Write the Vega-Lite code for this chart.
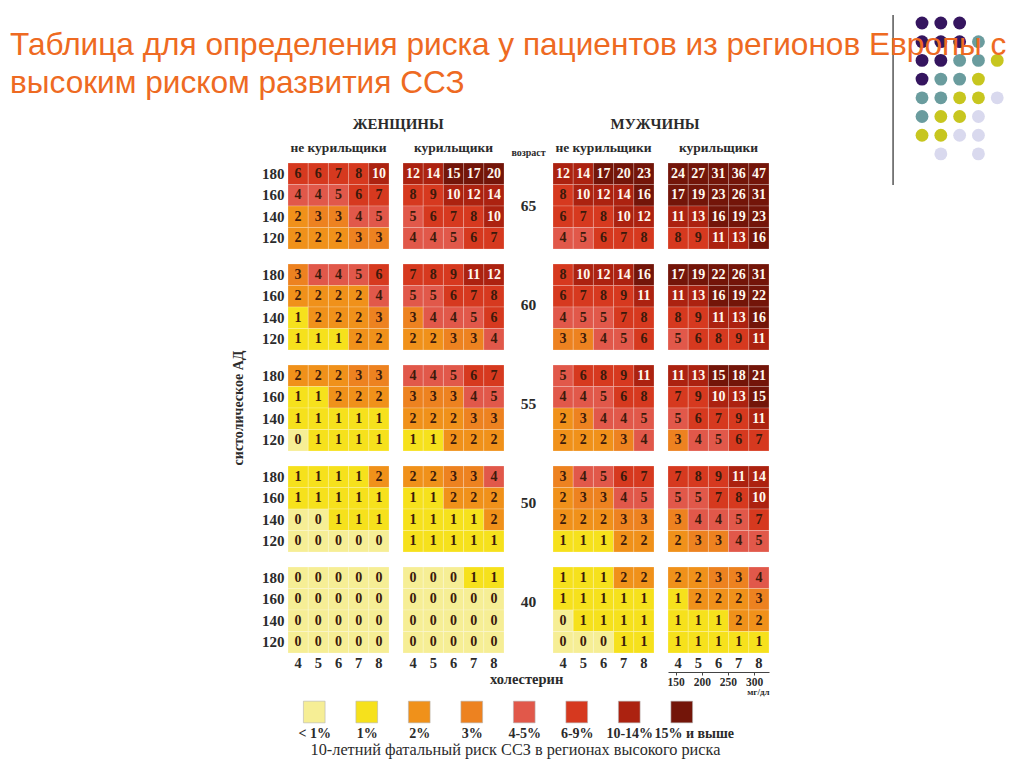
{
"$schema": "https://vega.github.io/schema/vega-lite/v6.json",
"background": "white",
"padding": {"left": 10, "top": 10, "right": 5, "bottom": 3},
"config": {
 "view": {"stroke": null},
 "font": "Liberation Serif",
 "axis": {"labelFontWeight": "bold", "labelColor": "#2b2b2b", "ticks": false, "domain": false, "grid": false, "titleColor": "#2b2b2b"},
 "header": {"labelFontWeight": "bold", "labelFontSize": 13.5, "labelColor": "#2b2b2b", "titleFontWeight": "bold", "titleFontSize": 14, "titleColor": "#2b2b2b"},
 "title": {"fontWeight": "bold", "fontSize": 15, "color": "#2b2b2b"}
},
"resolve": {"scale": {"color": "independent"}},
"datasets": {
 "dots": [
  {"col":0,"row":0,"tone":"purple"},{"col":1,"row":0,"tone":"purple"},{"col":2,"row":0,"tone":"purple"},
  {"col":0,"row":1,"tone":"purple"},{"col":1,"row":1,"tone":"purple"},{"col":2,"row":1,"tone":"purple"},{"col":3,"row":1,"tone":"teal"},
  {"col":0,"row":2,"tone":"purple"},{"col":1,"row":2,"tone":"purple"},{"col":2,"row":2,"tone":"teal"},{"col":3,"row":2,"tone":"teal"},{"col":4,"row":2,"tone":"olive"},
  {"col":0,"row":3,"tone":"purple"},{"col":1,"row":3,"tone":"teal"},{"col":2,"row":3,"tone":"teal"},{"col":3,"row":3,"tone":"olive"},
  {"col":0,"row":4,"tone":"teal"},{"col":1,"row":4,"tone":"teal"},{"col":2,"row":4,"tone":"olive"},{"col":3,"row":4,"tone":"olive"},{"col":4,"row":4,"tone":"lavender"},
  {"col":0,"row":5,"tone":"teal"},{"col":1,"row":5,"tone":"olive"},{"col":2,"row":5,"tone":"olive"},{"col":3,"row":5,"tone":"lavender"},
  {"col":0,"row":6,"tone":"olive"},{"col":1,"row":6,"tone":"olive"},{"col":2,"row":6,"tone":"lavender"},{"col":3,"row":6,"tone":"lavender"},
  {"col":1,"row":7,"tone":"lavender"},{"col":3,"row":7,"tone":"lavender"}
 ],
 "ages": [
  {"age":65,"col":"возраст"},{"age":60,"col":"возраст"},{"age":55,"col":"возраст"},{"age":50,"col":"возраст"},{"age":40,"col":"возраст"}
 ],
 "legend": [
  {"label":"< 1%"},{"label":"1%"},{"label":"2%"},{"label":"3%"},{"label":"4-5%"},{"label":"6-9%"},{"label":"10-14%"},{"label":"15% и выше"}
 ],
 "cells": [
  {"sex":"F","smoker":"no","age":65,"sbp":180,"chol":4,"risk":6},{"sex":"F","smoker":"no","age":65,"sbp":180,"chol":5,"risk":6},{"sex":"F","smoker":"no","age":65,"sbp":180,"chol":6,"risk":7},{"sex":"F","smoker":"no","age":65,"sbp":180,"chol":7,"risk":8},{"sex":"F","smoker":"no","age":65,"sbp":180,"chol":8,"risk":10},
  {"sex":"F","smoker":"no","age":65,"sbp":160,"chol":4,"risk":4},{"sex":"F","smoker":"no","age":65,"sbp":160,"chol":5,"risk":4},{"sex":"F","smoker":"no","age":65,"sbp":160,"chol":6,"risk":5},{"sex":"F","smoker":"no","age":65,"sbp":160,"chol":7,"risk":6},{"sex":"F","smoker":"no","age":65,"sbp":160,"chol":8,"risk":7},
  {"sex":"F","smoker":"no","age":65,"sbp":140,"chol":4,"risk":2},{"sex":"F","smoker":"no","age":65,"sbp":140,"chol":5,"risk":3},{"sex":"F","smoker":"no","age":65,"sbp":140,"chol":6,"risk":3},{"sex":"F","smoker":"no","age":65,"sbp":140,"chol":7,"risk":4},{"sex":"F","smoker":"no","age":65,"sbp":140,"chol":8,"risk":5},
  {"sex":"F","smoker":"no","age":65,"sbp":120,"chol":4,"risk":2},{"sex":"F","smoker":"no","age":65,"sbp":120,"chol":5,"risk":2},{"sex":"F","smoker":"no","age":65,"sbp":120,"chol":6,"risk":2},{"sex":"F","smoker":"no","age":65,"sbp":120,"chol":7,"risk":3},{"sex":"F","smoker":"no","age":65,"sbp":120,"chol":8,"risk":3},
  {"sex":"F","smoker":"no","age":60,"sbp":180,"chol":4,"risk":3},{"sex":"F","smoker":"no","age":60,"sbp":180,"chol":5,"risk":4},{"sex":"F","smoker":"no","age":60,"sbp":180,"chol":6,"risk":4},{"sex":"F","smoker":"no","age":60,"sbp":180,"chol":7,"risk":5},{"sex":"F","smoker":"no","age":60,"sbp":180,"chol":8,"risk":6},
  {"sex":"F","smoker":"no","age":60,"sbp":160,"chol":4,"risk":2},{"sex":"F","smoker":"no","age":60,"sbp":160,"chol":5,"risk":2},{"sex":"F","smoker":"no","age":60,"sbp":160,"chol":6,"risk":2},{"sex":"F","smoker":"no","age":60,"sbp":160,"chol":7,"risk":2},{"sex":"F","smoker":"no","age":60,"sbp":160,"chol":8,"risk":4},
  {"sex":"F","smoker":"no","age":60,"sbp":140,"chol":4,"risk":1},{"sex":"F","smoker":"no","age":60,"sbp":140,"chol":5,"risk":2},{"sex":"F","smoker":"no","age":60,"sbp":140,"chol":6,"risk":2},{"sex":"F","smoker":"no","age":60,"sbp":140,"chol":7,"risk":2},{"sex":"F","smoker":"no","age":60,"sbp":140,"chol":8,"risk":3},
  {"sex":"F","smoker":"no","age":60,"sbp":120,"chol":4,"risk":1},{"sex":"F","smoker":"no","age":60,"sbp":120,"chol":5,"risk":1},{"sex":"F","smoker":"no","age":60,"sbp":120,"chol":6,"risk":1},{"sex":"F","smoker":"no","age":60,"sbp":120,"chol":7,"risk":2},{"sex":"F","smoker":"no","age":60,"sbp":120,"chol":8,"risk":2},
  {"sex":"F","smoker":"no","age":55,"sbp":180,"chol":4,"risk":2},{"sex":"F","smoker":"no","age":55,"sbp":180,"chol":5,"risk":2},{"sex":"F","smoker":"no","age":55,"sbp":180,"chol":6,"risk":2},{"sex":"F","smoker":"no","age":55,"sbp":180,"chol":7,"risk":3},{"sex":"F","smoker":"no","age":55,"sbp":180,"chol":8,"risk":3},
  {"sex":"F","smoker":"no","age":55,"sbp":160,"chol":4,"risk":1},{"sex":"F","smoker":"no","age":55,"sbp":160,"chol":5,"risk":1},{"sex":"F","smoker":"no","age":55,"sbp":160,"chol":6,"risk":2},{"sex":"F","smoker":"no","age":55,"sbp":160,"chol":7,"risk":2},{"sex":"F","smoker":"no","age":55,"sbp":160,"chol":8,"risk":2},
  {"sex":"F","smoker":"no","age":55,"sbp":140,"chol":4,"risk":1},{"sex":"F","smoker":"no","age":55,"sbp":140,"chol":5,"risk":1},{"sex":"F","smoker":"no","age":55,"sbp":140,"chol":6,"risk":1},{"sex":"F","smoker":"no","age":55,"sbp":140,"chol":7,"risk":1},{"sex":"F","smoker":"no","age":55,"sbp":140,"chol":8,"risk":1},
  {"sex":"F","smoker":"no","age":55,"sbp":120,"chol":4,"risk":0},{"sex":"F","smoker":"no","age":55,"sbp":120,"chol":5,"risk":1},{"sex":"F","smoker":"no","age":55,"sbp":120,"chol":6,"risk":1},{"sex":"F","smoker":"no","age":55,"sbp":120,"chol":7,"risk":1},{"sex":"F","smoker":"no","age":55,"sbp":120,"chol":8,"risk":1},
  {"sex":"F","smoker":"no","age":50,"sbp":180,"chol":4,"risk":1},{"sex":"F","smoker":"no","age":50,"sbp":180,"chol":5,"risk":1},{"sex":"F","smoker":"no","age":50,"sbp":180,"chol":6,"risk":1},{"sex":"F","smoker":"no","age":50,"sbp":180,"chol":7,"risk":1},{"sex":"F","smoker":"no","age":50,"sbp":180,"chol":8,"risk":2},
  {"sex":"F","smoker":"no","age":50,"sbp":160,"chol":4,"risk":1},{"sex":"F","smoker":"no","age":50,"sbp":160,"chol":5,"risk":1},{"sex":"F","smoker":"no","age":50,"sbp":160,"chol":6,"risk":1},{"sex":"F","smoker":"no","age":50,"sbp":160,"chol":7,"risk":1},{"sex":"F","smoker":"no","age":50,"sbp":160,"chol":8,"risk":1},
  {"sex":"F","smoker":"no","age":50,"sbp":140,"chol":4,"risk":0},{"sex":"F","smoker":"no","age":50,"sbp":140,"chol":5,"risk":0},{"sex":"F","smoker":"no","age":50,"sbp":140,"chol":6,"risk":1},{"sex":"F","smoker":"no","age":50,"sbp":140,"chol":7,"risk":1},{"sex":"F","smoker":"no","age":50,"sbp":140,"chol":8,"risk":1},
  {"sex":"F","smoker":"no","age":50,"sbp":120,"chol":4,"risk":0},{"sex":"F","smoker":"no","age":50,"sbp":120,"chol":5,"risk":0},{"sex":"F","smoker":"no","age":50,"sbp":120,"chol":6,"risk":0},{"sex":"F","smoker":"no","age":50,"sbp":120,"chol":7,"risk":0},{"sex":"F","smoker":"no","age":50,"sbp":120,"chol":8,"risk":0},
  {"sex":"F","smoker":"no","age":40,"sbp":180,"chol":4,"risk":0},{"sex":"F","smoker":"no","age":40,"sbp":180,"chol":5,"risk":0},{"sex":"F","smoker":"no","age":40,"sbp":180,"chol":6,"risk":0},{"sex":"F","smoker":"no","age":40,"sbp":180,"chol":7,"risk":0},{"sex":"F","smoker":"no","age":40,"sbp":180,"chol":8,"risk":0},
  {"sex":"F","smoker":"no","age":40,"sbp":160,"chol":4,"risk":0},{"sex":"F","smoker":"no","age":40,"sbp":160,"chol":5,"risk":0},{"sex":"F","smoker":"no","age":40,"sbp":160,"chol":6,"risk":0},{"sex":"F","smoker":"no","age":40,"sbp":160,"chol":7,"risk":0},{"sex":"F","smoker":"no","age":40,"sbp":160,"chol":8,"risk":0},
  {"sex":"F","smoker":"no","age":40,"sbp":140,"chol":4,"risk":0},{"sex":"F","smoker":"no","age":40,"sbp":140,"chol":5,"risk":0},{"sex":"F","smoker":"no","age":40,"sbp":140,"chol":6,"risk":0},{"sex":"F","smoker":"no","age":40,"sbp":140,"chol":7,"risk":0},{"sex":"F","smoker":"no","age":40,"sbp":140,"chol":8,"risk":0},
  {"sex":"F","smoker":"no","age":40,"sbp":120,"chol":4,"risk":0},{"sex":"F","smoker":"no","age":40,"sbp":120,"chol":5,"risk":0},{"sex":"F","smoker":"no","age":40,"sbp":120,"chol":6,"risk":0},{"sex":"F","smoker":"no","age":40,"sbp":120,"chol":7,"risk":0},{"sex":"F","smoker":"no","age":40,"sbp":120,"chol":8,"risk":0},

  {"sex":"F","smoker":"yes","age":65,"sbp":180,"chol":4,"risk":12},{"sex":"F","smoker":"yes","age":65,"sbp":180,"chol":5,"risk":14},{"sex":"F","smoker":"yes","age":65,"sbp":180,"chol":6,"risk":15},{"sex":"F","smoker":"yes","age":65,"sbp":180,"chol":7,"risk":17},{"sex":"F","smoker":"yes","age":65,"sbp":180,"chol":8,"risk":20},
  {"sex":"F","smoker":"yes","age":65,"sbp":160,"chol":4,"risk":8},{"sex":"F","smoker":"yes","age":65,"sbp":160,"chol":5,"risk":9},{"sex":"F","smoker":"yes","age":65,"sbp":160,"chol":6,"risk":10},{"sex":"F","smoker":"yes","age":65,"sbp":160,"chol":7,"risk":12},{"sex":"F","smoker":"yes","age":65,"sbp":160,"chol":8,"risk":14},
  {"sex":"F","smoker":"yes","age":65,"sbp":140,"chol":4,"risk":5},{"sex":"F","smoker":"yes","age":65,"sbp":140,"chol":5,"risk":6},{"sex":"F","smoker":"yes","age":65,"sbp":140,"chol":6,"risk":7},{"sex":"F","smoker":"yes","age":65,"sbp":140,"chol":7,"risk":8},{"sex":"F","smoker":"yes","age":65,"sbp":140,"chol":8,"risk":10},
  {"sex":"F","smoker":"yes","age":65,"sbp":120,"chol":4,"risk":4},{"sex":"F","smoker":"yes","age":65,"sbp":120,"chol":5,"risk":4},{"sex":"F","smoker":"yes","age":65,"sbp":120,"chol":6,"risk":5},{"sex":"F","smoker":"yes","age":65,"sbp":120,"chol":7,"risk":6},{"sex":"F","smoker":"yes","age":65,"sbp":120,"chol":8,"risk":7},
  {"sex":"F","smoker":"yes","age":60,"sbp":180,"chol":4,"risk":7},{"sex":"F","smoker":"yes","age":60,"sbp":180,"chol":5,"risk":8},{"sex":"F","smoker":"yes","age":60,"sbp":180,"chol":6,"risk":9},{"sex":"F","smoker":"yes","age":60,"sbp":180,"chol":7,"risk":11},{"sex":"F","smoker":"yes","age":60,"sbp":180,"chol":8,"risk":12},
  {"sex":"F","smoker":"yes","age":60,"sbp":160,"chol":4,"risk":5},{"sex":"F","smoker":"yes","age":60,"sbp":160,"chol":5,"risk":5},{"sex":"F","smoker":"yes","age":60,"sbp":160,"chol":6,"risk":6},{"sex":"F","smoker":"yes","age":60,"sbp":160,"chol":7,"risk":7},{"sex":"F","smoker":"yes","age":60,"sbp":160,"chol":8,"risk":8},
  {"sex":"F","smoker":"yes","age":60,"sbp":140,"chol":4,"risk":3},{"sex":"F","smoker":"yes","age":60,"sbp":140,"chol":5,"risk":4},{"sex":"F","smoker":"yes","age":60,"sbp":140,"chol":6,"risk":4},{"sex":"F","smoker":"yes","age":60,"sbp":140,"chol":7,"risk":5},{"sex":"F","smoker":"yes","age":60,"sbp":140,"chol":8,"risk":6},
  {"sex":"F","smoker":"yes","age":60,"sbp":120,"chol":4,"risk":2},{"sex":"F","smoker":"yes","age":60,"sbp":120,"chol":5,"risk":2},{"sex":"F","smoker":"yes","age":60,"sbp":120,"chol":6,"risk":3},{"sex":"F","smoker":"yes","age":60,"sbp":120,"chol":7,"risk":3},{"sex":"F","smoker":"yes","age":60,"sbp":120,"chol":8,"risk":4},
  {"sex":"F","smoker":"yes","age":55,"sbp":180,"chol":4,"risk":4},{"sex":"F","smoker":"yes","age":55,"sbp":180,"chol":5,"risk":4},{"sex":"F","smoker":"yes","age":55,"sbp":180,"chol":6,"risk":5},{"sex":"F","smoker":"yes","age":55,"sbp":180,"chol":7,"risk":6},{"sex":"F","smoker":"yes","age":55,"sbp":180,"chol":8,"risk":7},
  {"sex":"F","smoker":"yes","age":55,"sbp":160,"chol":4,"risk":3},{"sex":"F","smoker":"yes","age":55,"sbp":160,"chol":5,"risk":3},{"sex":"F","smoker":"yes","age":55,"sbp":160,"chol":6,"risk":3},{"sex":"F","smoker":"yes","age":55,"sbp":160,"chol":7,"risk":4},{"sex":"F","smoker":"yes","age":55,"sbp":160,"chol":8,"risk":5},
  {"sex":"F","smoker":"yes","age":55,"sbp":140,"chol":4,"risk":2},{"sex":"F","smoker":"yes","age":55,"sbp":140,"chol":5,"risk":2},{"sex":"F","smoker":"yes","age":55,"sbp":140,"chol":6,"risk":2},{"sex":"F","smoker":"yes","age":55,"sbp":140,"chol":7,"risk":3},{"sex":"F","smoker":"yes","age":55,"sbp":140,"chol":8,"risk":3},
  {"sex":"F","smoker":"yes","age":55,"sbp":120,"chol":4,"risk":1},{"sex":"F","smoker":"yes","age":55,"sbp":120,"chol":5,"risk":1},{"sex":"F","smoker":"yes","age":55,"sbp":120,"chol":6,"risk":2},{"sex":"F","smoker":"yes","age":55,"sbp":120,"chol":7,"risk":2},{"sex":"F","smoker":"yes","age":55,"sbp":120,"chol":8,"risk":2},
  {"sex":"F","smoker":"yes","age":50,"sbp":180,"chol":4,"risk":2},{"sex":"F","smoker":"yes","age":50,"sbp":180,"chol":5,"risk":2},{"sex":"F","smoker":"yes","age":50,"sbp":180,"chol":6,"risk":3},{"sex":"F","smoker":"yes","age":50,"sbp":180,"chol":7,"risk":3},{"sex":"F","smoker":"yes","age":50,"sbp":180,"chol":8,"risk":4},
  {"sex":"F","smoker":"yes","age":50,"sbp":160,"chol":4,"risk":1},{"sex":"F","smoker":"yes","age":50,"sbp":160,"chol":5,"risk":1},{"sex":"F","smoker":"yes","age":50,"sbp":160,"chol":6,"risk":2},{"sex":"F","smoker":"yes","age":50,"sbp":160,"chol":7,"risk":2},{"sex":"F","smoker":"yes","age":50,"sbp":160,"chol":8,"risk":2},
  {"sex":"F","smoker":"yes","age":50,"sbp":140,"chol":4,"risk":1},{"sex":"F","smoker":"yes","age":50,"sbp":140,"chol":5,"risk":1},{"sex":"F","smoker":"yes","age":50,"sbp":140,"chol":6,"risk":1},{"sex":"F","smoker":"yes","age":50,"sbp":140,"chol":7,"risk":1},{"sex":"F","smoker":"yes","age":50,"sbp":140,"chol":8,"risk":2},
  {"sex":"F","smoker":"yes","age":50,"sbp":120,"chol":4,"risk":1},{"sex":"F","smoker":"yes","age":50,"sbp":120,"chol":5,"risk":1},{"sex":"F","smoker":"yes","age":50,"sbp":120,"chol":6,"risk":1},{"sex":"F","smoker":"yes","age":50,"sbp":120,"chol":7,"risk":1},{"sex":"F","smoker":"yes","age":50,"sbp":120,"chol":8,"risk":1},
  {"sex":"F","smoker":"yes","age":40,"sbp":180,"chol":4,"risk":0},{"sex":"F","smoker":"yes","age":40,"sbp":180,"chol":5,"risk":0},{"sex":"F","smoker":"yes","age":40,"sbp":180,"chol":6,"risk":0},{"sex":"F","smoker":"yes","age":40,"sbp":180,"chol":7,"risk":1},{"sex":"F","smoker":"yes","age":40,"sbp":180,"chol":8,"risk":1},
  {"sex":"F","smoker":"yes","age":40,"sbp":160,"chol":4,"risk":0},{"sex":"F","smoker":"yes","age":40,"sbp":160,"chol":5,"risk":0},{"sex":"F","smoker":"yes","age":40,"sbp":160,"chol":6,"risk":0},{"sex":"F","smoker":"yes","age":40,"sbp":160,"chol":7,"risk":0},{"sex":"F","smoker":"yes","age":40,"sbp":160,"chol":8,"risk":0},
  {"sex":"F","smoker":"yes","age":40,"sbp":140,"chol":4,"risk":0},{"sex":"F","smoker":"yes","age":40,"sbp":140,"chol":5,"risk":0},{"sex":"F","smoker":"yes","age":40,"sbp":140,"chol":6,"risk":0},{"sex":"F","smoker":"yes","age":40,"sbp":140,"chol":7,"risk":0},{"sex":"F","smoker":"yes","age":40,"sbp":140,"chol":8,"risk":0},
  {"sex":"F","smoker":"yes","age":40,"sbp":120,"chol":4,"risk":0},{"sex":"F","smoker":"yes","age":40,"sbp":120,"chol":5,"risk":0},{"sex":"F","smoker":"yes","age":40,"sbp":120,"chol":6,"risk":0},{"sex":"F","smoker":"yes","age":40,"sbp":120,"chol":7,"risk":0},{"sex":"F","smoker":"yes","age":40,"sbp":120,"chol":8,"risk":0},

  {"sex":"M","smoker":"no","age":65,"sbp":180,"chol":4,"risk":12},{"sex":"M","smoker":"no","age":65,"sbp":180,"chol":5,"risk":14},{"sex":"M","smoker":"no","age":65,"sbp":180,"chol":6,"risk":17},{"sex":"M","smoker":"no","age":65,"sbp":180,"chol":7,"risk":20},{"sex":"M","smoker":"no","age":65,"sbp":180,"chol":8,"risk":23},
  {"sex":"M","smoker":"no","age":65,"sbp":160,"chol":4,"risk":8},{"sex":"M","smoker":"no","age":65,"sbp":160,"chol":5,"risk":10},{"sex":"M","smoker":"no","age":65,"sbp":160,"chol":6,"risk":12},{"sex":"M","smoker":"no","age":65,"sbp":160,"chol":7,"risk":14},{"sex":"M","smoker":"no","age":65,"sbp":160,"chol":8,"risk":16},
  {"sex":"M","smoker":"no","age":65,"sbp":140,"chol":4,"risk":6},{"sex":"M","smoker":"no","age":65,"sbp":140,"chol":5,"risk":7},{"sex":"M","smoker":"no","age":65,"sbp":140,"chol":6,"risk":8},{"sex":"M","smoker":"no","age":65,"sbp":140,"chol":7,"risk":10},{"sex":"M","smoker":"no","age":65,"sbp":140,"chol":8,"risk":12},
  {"sex":"M","smoker":"no","age":65,"sbp":120,"chol":4,"risk":4},{"sex":"M","smoker":"no","age":65,"sbp":120,"chol":5,"risk":5},{"sex":"M","smoker":"no","age":65,"sbp":120,"chol":6,"risk":6},{"sex":"M","smoker":"no","age":65,"sbp":120,"chol":7,"risk":7},{"sex":"M","smoker":"no","age":65,"sbp":120,"chol":8,"risk":8},
  {"sex":"M","smoker":"no","age":60,"sbp":180,"chol":4,"risk":8},{"sex":"M","smoker":"no","age":60,"sbp":180,"chol":5,"risk":10},{"sex":"M","smoker":"no","age":60,"sbp":180,"chol":6,"risk":12},{"sex":"M","smoker":"no","age":60,"sbp":180,"chol":7,"risk":14},{"sex":"M","smoker":"no","age":60,"sbp":180,"chol":8,"risk":16},
  {"sex":"M","smoker":"no","age":60,"sbp":160,"chol":4,"risk":6},{"sex":"M","smoker":"no","age":60,"sbp":160,"chol":5,"risk":7},{"sex":"M","smoker":"no","age":60,"sbp":160,"chol":6,"risk":8},{"sex":"M","smoker":"no","age":60,"sbp":160,"chol":7,"risk":9},{"sex":"M","smoker":"no","age":60,"sbp":160,"chol":8,"risk":11},
  {"sex":"M","smoker":"no","age":60,"sbp":140,"chol":4,"risk":4},{"sex":"M","smoker":"no","age":60,"sbp":140,"chol":5,"risk":5},{"sex":"M","smoker":"no","age":60,"sbp":140,"chol":6,"risk":5},{"sex":"M","smoker":"no","age":60,"sbp":140,"chol":7,"risk":7},{"sex":"M","smoker":"no","age":60,"sbp":140,"chol":8,"risk":8},
  {"sex":"M","smoker":"no","age":60,"sbp":120,"chol":4,"risk":3},{"sex":"M","smoker":"no","age":60,"sbp":120,"chol":5,"risk":3},{"sex":"M","smoker":"no","age":60,"sbp":120,"chol":6,"risk":4},{"sex":"M","smoker":"no","age":60,"sbp":120,"chol":7,"risk":5},{"sex":"M","smoker":"no","age":60,"sbp":120,"chol":8,"risk":6},
  {"sex":"M","smoker":"no","age":55,"sbp":180,"chol":4,"risk":5},{"sex":"M","smoker":"no","age":55,"sbp":180,"chol":5,"risk":6},{"sex":"M","smoker":"no","age":55,"sbp":180,"chol":6,"risk":8},{"sex":"M","smoker":"no","age":55,"sbp":180,"chol":7,"risk":9},{"sex":"M","smoker":"no","age":55,"sbp":180,"chol":8,"risk":11},
  {"sex":"M","smoker":"no","age":55,"sbp":160,"chol":4,"risk":4},{"sex":"M","smoker":"no","age":55,"sbp":160,"chol":5,"risk":4},{"sex":"M","smoker":"no","age":55,"sbp":160,"chol":6,"risk":5},{"sex":"M","smoker":"no","age":55,"sbp":160,"chol":7,"risk":6},{"sex":"M","smoker":"no","age":55,"sbp":160,"chol":8,"risk":8},
  {"sex":"M","smoker":"no","age":55,"sbp":140,"chol":4,"risk":2},{"sex":"M","smoker":"no","age":55,"sbp":140,"chol":5,"risk":3},{"sex":"M","smoker":"no","age":55,"sbp":140,"chol":6,"risk":4},{"sex":"M","smoker":"no","age":55,"sbp":140,"chol":7,"risk":4},{"sex":"M","smoker":"no","age":55,"sbp":140,"chol":8,"risk":5},
  {"sex":"M","smoker":"no","age":55,"sbp":120,"chol":4,"risk":2},{"sex":"M","smoker":"no","age":55,"sbp":120,"chol":5,"risk":2},{"sex":"M","smoker":"no","age":55,"sbp":120,"chol":6,"risk":2},{"sex":"M","smoker":"no","age":55,"sbp":120,"chol":7,"risk":3},{"sex":"M","smoker":"no","age":55,"sbp":120,"chol":8,"risk":4},
  {"sex":"M","smoker":"no","age":50,"sbp":180,"chol":4,"risk":3},{"sex":"M","smoker":"no","age":50,"sbp":180,"chol":5,"risk":4},{"sex":"M","smoker":"no","age":50,"sbp":180,"chol":6,"risk":5},{"sex":"M","smoker":"no","age":50,"sbp":180,"chol":7,"risk":6},{"sex":"M","smoker":"no","age":50,"sbp":180,"chol":8,"risk":7},
  {"sex":"M","smoker":"no","age":50,"sbp":160,"chol":4,"risk":2},{"sex":"M","smoker":"no","age":50,"sbp":160,"chol":5,"risk":3},{"sex":"M","smoker":"no","age":50,"sbp":160,"chol":6,"risk":3},{"sex":"M","smoker":"no","age":50,"sbp":160,"chol":7,"risk":4},{"sex":"M","smoker":"no","age":50,"sbp":160,"chol":8,"risk":5},
  {"sex":"M","smoker":"no","age":50,"sbp":140,"chol":4,"risk":2},{"sex":"M","smoker":"no","age":50,"sbp":140,"chol":5,"risk":2},{"sex":"M","smoker":"no","age":50,"sbp":140,"chol":6,"risk":2},{"sex":"M","smoker":"no","age":50,"sbp":140,"chol":7,"risk":3},{"sex":"M","smoker":"no","age":50,"sbp":140,"chol":8,"risk":3},
  {"sex":"M","smoker":"no","age":50,"sbp":120,"chol":4,"risk":1},{"sex":"M","smoker":"no","age":50,"sbp":120,"chol":5,"risk":1},{"sex":"M","smoker":"no","age":50,"sbp":120,"chol":6,"risk":1},{"sex":"M","smoker":"no","age":50,"sbp":120,"chol":7,"risk":2},{"sex":"M","smoker":"no","age":50,"sbp":120,"chol":8,"risk":2},
  {"sex":"M","smoker":"no","age":40,"sbp":180,"chol":4,"risk":1},{"sex":"M","smoker":"no","age":40,"sbp":180,"chol":5,"risk":1},{"sex":"M","smoker":"no","age":40,"sbp":180,"chol":6,"risk":1},{"sex":"M","smoker":"no","age":40,"sbp":180,"chol":7,"risk":2},{"sex":"M","smoker":"no","age":40,"sbp":180,"chol":8,"risk":2},
  {"sex":"M","smoker":"no","age":40,"sbp":160,"chol":4,"risk":1},{"sex":"M","smoker":"no","age":40,"sbp":160,"chol":5,"risk":1},{"sex":"M","smoker":"no","age":40,"sbp":160,"chol":6,"risk":1},{"sex":"M","smoker":"no","age":40,"sbp":160,"chol":7,"risk":1},{"sex":"M","smoker":"no","age":40,"sbp":160,"chol":8,"risk":1},
  {"sex":"M","smoker":"no","age":40,"sbp":140,"chol":4,"risk":0},{"sex":"M","smoker":"no","age":40,"sbp":140,"chol":5,"risk":1},{"sex":"M","smoker":"no","age":40,"sbp":140,"chol":6,"risk":1},{"sex":"M","smoker":"no","age":40,"sbp":140,"chol":7,"risk":1},{"sex":"M","smoker":"no","age":40,"sbp":140,"chol":8,"risk":1},
  {"sex":"M","smoker":"no","age":40,"sbp":120,"chol":4,"risk":0},{"sex":"M","smoker":"no","age":40,"sbp":120,"chol":5,"risk":0},{"sex":"M","smoker":"no","age":40,"sbp":120,"chol":6,"risk":0},{"sex":"M","smoker":"no","age":40,"sbp":120,"chol":7,"risk":1},{"sex":"M","smoker":"no","age":40,"sbp":120,"chol":8,"risk":1},

  {"sex":"M","smoker":"yes","age":65,"sbp":180,"chol":4,"risk":24},{"sex":"M","smoker":"yes","age":65,"sbp":180,"chol":5,"risk":27},{"sex":"M","smoker":"yes","age":65,"sbp":180,"chol":6,"risk":31},{"sex":"M","smoker":"yes","age":65,"sbp":180,"chol":7,"risk":36},{"sex":"M","smoker":"yes","age":65,"sbp":180,"chol":8,"risk":47},
  {"sex":"M","smoker":"yes","age":65,"sbp":160,"chol":4,"risk":17},{"sex":"M","smoker":"yes","age":65,"sbp":160,"chol":5,"risk":19},{"sex":"M","smoker":"yes","age":65,"sbp":160,"chol":6,"risk":23},{"sex":"M","smoker":"yes","age":65,"sbp":160,"chol":7,"risk":26},{"sex":"M","smoker":"yes","age":65,"sbp":160,"chol":8,"risk":31},
  {"sex":"M","smoker":"yes","age":65,"sbp":140,"chol":4,"risk":11},{"sex":"M","smoker":"yes","age":65,"sbp":140,"chol":5,"risk":13},{"sex":"M","smoker":"yes","age":65,"sbp":140,"chol":6,"risk":16},{"sex":"M","smoker":"yes","age":65,"sbp":140,"chol":7,"risk":19},{"sex":"M","smoker":"yes","age":65,"sbp":140,"chol":8,"risk":23},
  {"sex":"M","smoker":"yes","age":65,"sbp":120,"chol":4,"risk":8},{"sex":"M","smoker":"yes","age":65,"sbp":120,"chol":5,"risk":9},{"sex":"M","smoker":"yes","age":65,"sbp":120,"chol":6,"risk":11},{"sex":"M","smoker":"yes","age":65,"sbp":120,"chol":7,"risk":13},{"sex":"M","smoker":"yes","age":65,"sbp":120,"chol":8,"risk":16},
  {"sex":"M","smoker":"yes","age":60,"sbp":180,"chol":4,"risk":17},{"sex":"M","smoker":"yes","age":60,"sbp":180,"chol":5,"risk":19},{"sex":"M","smoker":"yes","age":60,"sbp":180,"chol":6,"risk":22},{"sex":"M","smoker":"yes","age":60,"sbp":180,"chol":7,"risk":26},{"sex":"M","smoker":"yes","age":60,"sbp":180,"chol":8,"risk":31},
  {"sex":"M","smoker":"yes","age":60,"sbp":160,"chol":4,"risk":11},{"sex":"M","smoker":"yes","age":60,"sbp":160,"chol":5,"risk":13},{"sex":"M","smoker":"yes","age":60,"sbp":160,"chol":6,"risk":16},{"sex":"M","smoker":"yes","age":60,"sbp":160,"chol":7,"risk":19},{"sex":"M","smoker":"yes","age":60,"sbp":160,"chol":8,"risk":22},
  {"sex":"M","smoker":"yes","age":60,"sbp":140,"chol":4,"risk":8},{"sex":"M","smoker":"yes","age":60,"sbp":140,"chol":5,"risk":9},{"sex":"M","smoker":"yes","age":60,"sbp":140,"chol":6,"risk":11},{"sex":"M","smoker":"yes","age":60,"sbp":140,"chol":7,"risk":13},{"sex":"M","smoker":"yes","age":60,"sbp":140,"chol":8,"risk":16},
  {"sex":"M","smoker":"yes","age":60,"sbp":120,"chol":4,"risk":5},{"sex":"M","smoker":"yes","age":60,"sbp":120,"chol":5,"risk":6},{"sex":"M","smoker":"yes","age":60,"sbp":120,"chol":6,"risk":8},{"sex":"M","smoker":"yes","age":60,"sbp":120,"chol":7,"risk":9},{"sex":"M","smoker":"yes","age":60,"sbp":120,"chol":8,"risk":11},
  {"sex":"M","smoker":"yes","age":55,"sbp":180,"chol":4,"risk":11},{"sex":"M","smoker":"yes","age":55,"sbp":180,"chol":5,"risk":13},{"sex":"M","smoker":"yes","age":55,"sbp":180,"chol":6,"risk":15},{"sex":"M","smoker":"yes","age":55,"sbp":180,"chol":7,"risk":18},{"sex":"M","smoker":"yes","age":55,"sbp":180,"chol":8,"risk":21},
  {"sex":"M","smoker":"yes","age":55,"sbp":160,"chol":4,"risk":7},{"sex":"M","smoker":"yes","age":55,"sbp":160,"chol":5,"risk":9},{"sex":"M","smoker":"yes","age":55,"sbp":160,"chol":6,"risk":10},{"sex":"M","smoker":"yes","age":55,"sbp":160,"chol":7,"risk":13},{"sex":"M","smoker":"yes","age":55,"sbp":160,"chol":8,"risk":15},
  {"sex":"M","smoker":"yes","age":55,"sbp":140,"chol":4,"risk":5},{"sex":"M","smoker":"yes","age":55,"sbp":140,"chol":5,"risk":6},{"sex":"M","smoker":"yes","age":55,"sbp":140,"chol":6,"risk":7},{"sex":"M","smoker":"yes","age":55,"sbp":140,"chol":7,"risk":9},{"sex":"M","smoker":"yes","age":55,"sbp":140,"chol":8,"risk":11},
  {"sex":"M","smoker":"yes","age":55,"sbp":120,"chol":4,"risk":3},{"sex":"M","smoker":"yes","age":55,"sbp":120,"chol":5,"risk":4},{"sex":"M","smoker":"yes","age":55,"sbp":120,"chol":6,"risk":5},{"sex":"M","smoker":"yes","age":55,"sbp":120,"chol":7,"risk":6},{"sex":"M","smoker":"yes","age":55,"sbp":120,"chol":8,"risk":7},
  {"sex":"M","smoker":"yes","age":50,"sbp":180,"chol":4,"risk":7},{"sex":"M","smoker":"yes","age":50,"sbp":180,"chol":5,"risk":8},{"sex":"M","smoker":"yes","age":50,"sbp":180,"chol":6,"risk":9},{"sex":"M","smoker":"yes","age":50,"sbp":180,"chol":7,"risk":11},{"sex":"M","smoker":"yes","age":50,"sbp":180,"chol":8,"risk":14},
  {"sex":"M","smoker":"yes","age":50,"sbp":160,"chol":4,"risk":5},{"sex":"M","smoker":"yes","age":50,"sbp":160,"chol":5,"risk":5},{"sex":"M","smoker":"yes","age":50,"sbp":160,"chol":6,"risk":7},{"sex":"M","smoker":"yes","age":50,"sbp":160,"chol":7,"risk":8},{"sex":"M","smoker":"yes","age":50,"sbp":160,"chol":8,"risk":10},
  {"sex":"M","smoker":"yes","age":50,"sbp":140,"chol":4,"risk":3},{"sex":"M","smoker":"yes","age":50,"sbp":140,"chol":5,"risk":4},{"sex":"M","smoker":"yes","age":50,"sbp":140,"chol":6,"risk":4},{"sex":"M","smoker":"yes","age":50,"sbp":140,"chol":7,"risk":5},{"sex":"M","smoker":"yes","age":50,"sbp":140,"chol":8,"risk":7},
  {"sex":"M","smoker":"yes","age":50,"sbp":120,"chol":4,"risk":2},{"sex":"M","smoker":"yes","age":50,"sbp":120,"chol":5,"risk":3},{"sex":"M","smoker":"yes","age":50,"sbp":120,"chol":6,"risk":3},{"sex":"M","smoker":"yes","age":50,"sbp":120,"chol":7,"risk":4},{"sex":"M","smoker":"yes","age":50,"sbp":120,"chol":8,"risk":5},
  {"sex":"M","smoker":"yes","age":40,"sbp":180,"chol":4,"risk":2},{"sex":"M","smoker":"yes","age":40,"sbp":180,"chol":5,"risk":2},{"sex":"M","smoker":"yes","age":40,"sbp":180,"chol":6,"risk":3},{"sex":"M","smoker":"yes","age":40,"sbp":180,"chol":7,"risk":3},{"sex":"M","smoker":"yes","age":40,"sbp":180,"chol":8,"risk":4},
  {"sex":"M","smoker":"yes","age":40,"sbp":160,"chol":4,"risk":1},{"sex":"M","smoker":"yes","age":40,"sbp":160,"chol":5,"risk":2},{"sex":"M","smoker":"yes","age":40,"sbp":160,"chol":6,"risk":2},{"sex":"M","smoker":"yes","age":40,"sbp":160,"chol":7,"risk":2},{"sex":"M","smoker":"yes","age":40,"sbp":160,"chol":8,"risk":3},
  {"sex":"M","smoker":"yes","age":40,"sbp":140,"chol":4,"risk":1},{"sex":"M","smoker":"yes","age":40,"sbp":140,"chol":5,"risk":1},{"sex":"M","smoker":"yes","age":40,"sbp":140,"chol":6,"risk":1},{"sex":"M","smoker":"yes","age":40,"sbp":140,"chol":7,"risk":2},{"sex":"M","smoker":"yes","age":40,"sbp":140,"chol":8,"risk":2},
  {"sex":"M","smoker":"yes","age":40,"sbp":120,"chol":4,"risk":1},{"sex":"M","smoker":"yes","age":40,"sbp":120,"chol":5,"risk":1},{"sex":"M","smoker":"yes","age":40,"sbp":120,"chol":6,"risk":1},{"sex":"M","smoker":"yes","age":40,"sbp":120,"chol":7,"risk":1},{"sex":"M","smoker":"yes","age":40,"sbp":120,"chol":8,"risk":1}
 ]
},
"bounds": "flush",
"spacing": 0,
"vconcat": [
 {
  "data": {"name": "dots"},
  "width": 994, "height": 153,
  "title": {"text": ["Таблица для определения риска у пациентов из регионов Европы с", "высоким риском развития ССЗ"], "anchor": "start", "frame": "group", "offset": -90, "font": "Liberation Sans", "fontSize": 31.6, "fontWeight": "normal", "color": "#ee6a22", "lineHeight": 38},
  "layer": [
   {"data": {"values": [{}]}, "mark": {"type": "rule", "color": "#555555", "strokeWidth": 1.5},
    "encoding": {
     "x": {"datum": -1.54, "type": "quantitative", "scale": {"domain": [-48.51, 4.36], "nice": false, "zero": false}, "axis": null},
     "y": {"datum": -0.43, "type": "quantitative", "scale": {"domain": [-0.695, 8.93], "range": [0, 180], "nice": false, "zero": false}, "axis": null},
     "y2": {"datum": 8.66}
    }},
   {"mark": {"type": "circle", "size": 165, "opacity": 1},
    "encoding": {
     "x": {"field": "col", "type": "quantitative", "scale": {"domain": [-48.51, 4.36], "nice": false, "zero": false}, "axis": null},
     "y": {"field": "row", "type": "quantitative", "scale": {"domain": [-0.695, 8.93], "range": [0, 180], "nice": false, "zero": false}, "axis": null},
     "color": {"field": "tone", "type": "nominal", "scale": {"domain": ["purple", "teal", "olive", "lavender"], "range": ["#35155f", "#6a9c9e", "#c7c61f", "#d9d9ee"]}, "legend": null}
    }}
  ]
 },
 {
  "spacing": 0,
  "hconcat": [
   {"data": {"values": [{}]}, "width": 221, "height": 1, "mark": {"type": "rect", "fill": "#ffffff"}},
   {
    "spacing": 2,
    "vconcat": [
     {
      "title": {"text": "холестерин", "orient": "bottom", "anchor": "middle", "offset": -24, "dx": 26, "fontSize": 14.5},
      "spacing": 0,
      "hconcat": [
       {
        "title": {"text": "ЖЕНЩИНЫ", "anchor": "middle", "dx": 30, "offset": 9},
        "spacing": 12,
        "hconcat": [
         {
          "data": {"name": "cells"},
          "transform": [{"filter": "datum.sex == 'F' && datum.smoker == 'no'"}],
          "facet": {
           "row": {"field": "age", "type": "ordinal", "sort": "descending", "header": {"title": "систолическое АД", "labels": false, "titlePadding": 5}},
           "column": {"field": "smoker", "type": "nominal", "header": {"title": null, "labelExpr": "datum.value == 'no' ? 'не курильщики' : 'курильщики'", "labelPadding": 8}}
          },
          "spacing": {"row": 13, "column": 0},
          "spec": {
           "width": 101, "height": 86,
           "encoding": {
            "x": {"field": "chol", "type": "ordinal", "scale": {"paddingInner": 0, "paddingOuter": 0}, "axis": {"title": null, "labelAngle": 0, "labelFontSize": 14.5, "labelPadding": 2}},
            "y": {"field": "sbp", "type": "ordinal", "sort": "descending", "scale": {"paddingInner": 0, "paddingOuter": 0}, "axis": {"title": null, "labelFontSize": 15, "labelPadding": 3}}
           },
           "layer": [
            {"mark": {"type": "rect", "stroke": "#ffffff", "strokeOpacity": 0.3, "strokeWidth": 0.7},
             "encoding": {"fill": {"field": "risk", "type": "quantitative", "scale": {"type": "threshold", "domain": [1, 2, 3, 4, 6, 10, 15], "range": ["#f6ee95", "#f6e11c", "#f0911a", "#ed8220", "#e1584a", "#d6391f", "#ac2210", "#731509"]}, "legend": null}}},
            {"mark": {"type": "text", "fontWeight": "bold", "fontSize": 14},
             "encoding": {"text": {"field": "risk", "type": "quantitative"}, "color": {"condition": {"test": "datum.risk >= 10", "value": "#fff8ee"}, "value": "#3b1a0b"}}}
           ]
          }
         },
         {
          "data": {"name": "cells"},
          "transform": [{"filter": "datum.sex == 'F' && datum.smoker == 'yes'"}],
          "facet": {
           "row": {"field": "age", "type": "ordinal", "sort": "descending", "header": {"title": null, "labels": false}},
           "column": {"field": "smoker", "type": "nominal", "header": {"title": null, "labelExpr": "datum.value == 'no' ? 'не курильщики' : 'курильщики'", "labelPadding": 8}}
          },
          "spacing": {"row": 13, "column": 0},
          "spec": {
           "width": 101, "height": 86,
           "encoding": {
            "x": {"field": "chol", "type": "ordinal", "scale": {"paddingInner": 0, "paddingOuter": 0}, "axis": {"title": null, "labelAngle": 0, "labelFontSize": 14.5, "labelPadding": 2}},
            "y": {"field": "sbp", "type": "ordinal", "sort": "descending", "scale": {"paddingInner": 0, "paddingOuter": 0}, "axis": null}
           },
           "layer": [
            {"mark": {"type": "rect", "stroke": "#ffffff", "strokeOpacity": 0.3, "strokeWidth": 0.7},
             "encoding": {"fill": {"field": "risk", "type": "quantitative", "scale": {"type": "threshold", "domain": [1, 2, 3, 4, 6, 10, 15], "range": ["#f6ee95", "#f6e11c", "#f0911a", "#ed8220", "#e1584a", "#d6391f", "#ac2210", "#731509"]}, "legend": null}}},
            {"mark": {"type": "text", "fontWeight": "bold", "fontSize": 14},
             "encoding": {"text": {"field": "risk", "type": "quantitative"}, "color": {"condition": {"test": "datum.risk >= 10", "value": "#fff8ee"}, "value": "#3b1a0b"}}}
           ]
          }
         }
        ]
       },
       {
        "data": {"name": "ages"},
        "title": {"text": " ", "offset": 9},
        "facet": {
         "row": {"field": "age", "type": "ordinal", "sort": "descending", "header": {"title": null, "labels": false}},
         "column": {"field": "col", "type": "nominal", "header": {"title": null, "labelFontSize": 10, "labelPadding": 5}}
        },
        "spacing": {"row": 13, "column": 0},
        "spec": {
         "width": 47, "height": 86,
         "mark": {"type": "text", "fontSize": 15.5, "fontWeight": "bold", "color": "#2b2b2b"},
         "encoding": {"text": {"field": "age", "type": "nominal"}}
        }
       },
       {
        "title": {"text": "МУЖЧИНЫ", "anchor": "middle", "dx": -6, "offset": 9},
        "spacing": 12,
        "hconcat": [
         {
          "data": {"name": "cells"},
          "transform": [{"filter": "datum.sex == 'M' && datum.smoker == 'no'"}],
          "facet": {
           "row": {"field": "age", "type": "ordinal", "sort": "descending", "header": {"title": null, "labels": false}},
           "column": {"field": "smoker", "type": "nominal", "header": {"title": null, "labelExpr": "datum.value == 'no' ? 'не курильщики' : 'курильщики'", "labelPadding": 8}}
          },
          "spacing": {"row": 13, "column": 0},
          "spec": {
           "width": 101, "height": 86,
           "encoding": {
            "x": {"field": "chol", "type": "ordinal", "scale": {"paddingInner": 0, "paddingOuter": 0}, "axis": {"title": null, "labelAngle": 0, "labelFontSize": 14.5, "labelPadding": 2}},
            "y": {"field": "sbp", "type": "ordinal", "sort": "descending", "scale": {"paddingInner": 0, "paddingOuter": 0}, "axis": null}
           },
           "layer": [
            {"mark": {"type": "rect", "stroke": "#ffffff", "strokeOpacity": 0.3, "strokeWidth": 0.7},
             "encoding": {"fill": {"field": "risk", "type": "quantitative", "scale": {"type": "threshold", "domain": [1, 2, 3, 4, 6, 10, 15], "range": ["#f6ee95", "#f6e11c", "#f0911a", "#ed8220", "#e1584a", "#d6391f", "#ac2210", "#731509"]}, "legend": null}}},
            {"mark": {"type": "text", "fontWeight": "bold", "fontSize": 14},
             "encoding": {"text": {"field": "risk", "type": "quantitative"}, "color": {"condition": {"test": "datum.risk >= 10", "value": "#fff8ee"}, "value": "#3b1a0b"}}}
           ]
          }
         },
         {
          "spacing": 1,
          "vconcat": [
           {
            "data": {"name": "cells"},
            "transform": [{"filter": "datum.sex == 'M' && datum.smoker == 'yes'"}],
            "facet": {
             "row": {"field": "age", "type": "ordinal", "sort": "descending", "header": {"title": null, "labels": false}},
             "column": {"field": "smoker", "type": "nominal", "header": {"title": null, "labelExpr": "datum.value == 'no' ? 'не курильщики' : 'курильщики'", "labelPadding": 8}}
            },
            "spacing": {"row": 13, "column": 0},
            "spec": {
             "width": 101, "height": 86,
             "encoding": {
              "x": {"field": "chol", "type": "ordinal", "scale": {"paddingInner": 0, "paddingOuter": 0}, "axis": {"title": null, "labelAngle": 0, "labelFontSize": 14.5, "labelPadding": 2}},
              "y": {"field": "sbp", "type": "ordinal", "sort": "descending", "scale": {"paddingInner": 0, "paddingOuter": 0}, "axis": null}
             },
             "layer": [
              {"mark": {"type": "rect", "stroke": "#ffffff", "strokeOpacity": 0.3, "strokeWidth": 0.7},
               "encoding": {"fill": {"field": "risk", "type": "quantitative", "scale": {"type": "threshold", "domain": [1, 2, 3, 4, 6, 10, 15], "range": ["#f6ee95", "#f6e11c", "#f0911a", "#ed8220", "#e1584a", "#d6391f", "#ac2210", "#731509"]}, "legend": null}}},
              {"mark": {"type": "text", "fontWeight": "bold", "fontSize": 14},
               "encoding": {"text": {"field": "risk", "type": "quantitative"}, "color": {"condition": {"test": "datum.risk >= 10", "value": "#fff8ee"}, "value": "#3b1a0b"}}}
             ]
            }
           },
           {
            "data": {"values": [{}]},
            "width": 101, "height": 1,
            "mark": {"type": "rule"},
            "encoding": {
             "x": {"field": "mg", "type": "quantitative", "scale": {"domain": [135.3, 328.7], "nice": false, "zero": false},
              "axis": {"orient": "bottom", "offset": 0, "values": [150, 200, 250, 300], "title": "мг/дл", "titleAnchor": "end", "titleFontSize": 9, "titleFontWeight": "bold", "titlePadding": 0, "labelFontSize": 11.5, "labelPadding": 1, "ticks": true, "tickSize": 3, "tickColor": "#444444", "domain": true, "domainColor": "#444444", "labelFlush": false}}
            }
           }
          ]
         }
        ]
       }
      ]
     },
     {
      "data": {"name": "legend"},
      "width": 420, "height": 22,
      "mark": {"type": "square", "size": 470, "opacity": 1, "stroke": "#b5b5b5", "strokeWidth": 0.6},
      "encoding": {
       "x": {"field": "label", "type": "nominal", "sort": null,
        "axis": {"title": "10-летний фатальный риск ССЗ в регионах высокого риска", "labelFontSize": 14, "labelPadding": 3, "labelOverlap": false, "labelFlush": false, "labelLimit": 0, "labelAngle": 0,
         "labelOffset": {"condition": {"test": "datum.value == '15% и выше'", "value": 12}, "value": 0},
         "titleFontWeight": "normal", "titleFontSize": 16.3, "titlePadding": 1, "titleX": 227, "titleAlign": "center"}},
       "color": {"field": "label", "type": "nominal", "sort": null, "scale": {"domain": ["< 1%", "1%", "2%", "3%", "4-5%", "6-9%", "10-14%", "15% и выше"], "range": ["#f6ee95", "#f6e11c", "#f0911a", "#ed8220", "#e1584a", "#d6391f", "#ac2210", "#731509"]}, "legend": null}
      }
     }
    ]
   }
  ]
 }
]
}
